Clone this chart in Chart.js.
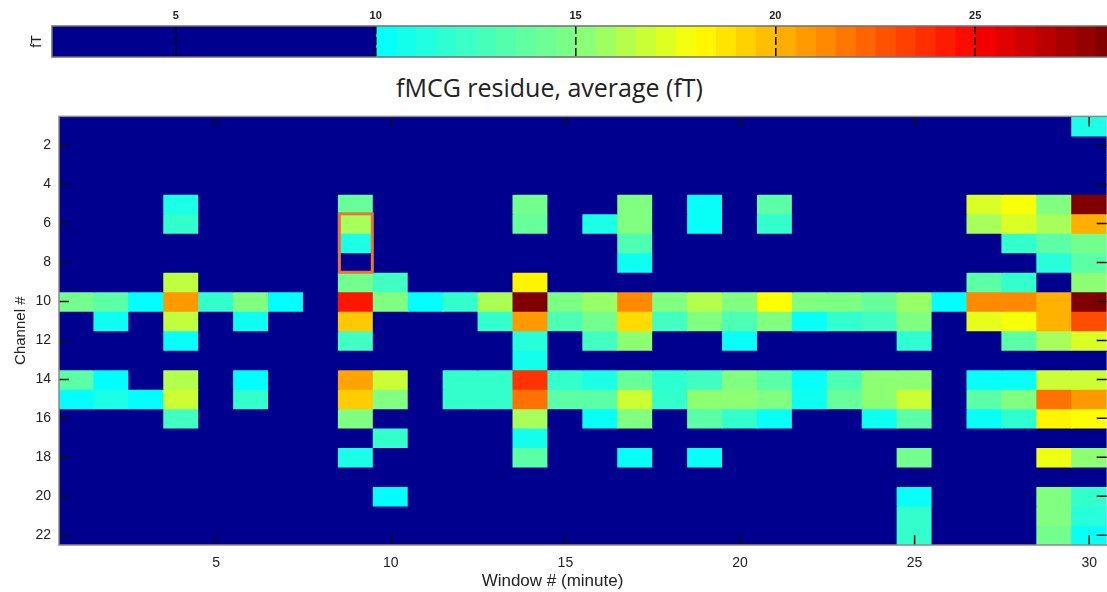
<!DOCTYPE html>
<html lang="en">
<head>
  <meta charset="UTF-8">
  <title>fMCG residue, average (fT)</title>
  <script src="https://cdn.jsdelivr.net/npm/chart.js"></script>
  <style>
    body { margin: 0; background: #fff; width: 1107px; height: 592px; overflow: hidden; position: relative; }
    .box { position: absolute; left: 0; width: 1107px; }
    #title { position: absolute; left: 0; width: 1099px; top: 72px; text-align: center;
             font: 25px "Open Sans", sans-serif; line-height: 30px; color: #222; }
    #xtitle { position: absolute; left: 0; width: 1105px; top: 571px; text-align: center;
              font: 17px "Liberation Sans", sans-serif; line-height: 20px; color: #222; }
  </style>
</head>
<body>
  <div class="box" style="top:0;height:65px"><canvas id="cbar"></canvas></div>
  <div id="title">fMCG residue, average (fT)</div>
  <div class="box" style="top:100px;height:492px"><canvas id="heat"></canvas></div>
  <div id="xtitle">Window # (minute)</div>

  <script>
    // windows (minutes) along x, channels along y
    const windows = ['1','2','3','4','5','6','7','8','9','10','11','12','13','14','15',
                     '16','17','18','19','20','21','22','23','24','25','26','27','28','29','30'];
    const xTicks = [5, 10, 15, 20, 25, 30];
    const yTicks = [2, 4, 6, 8, 10, 12, 14, 16, 18, 20, 22];
    const cbarTicks = [5, 10, 15, 20, 25];

    // average residue per channel (fT), one row per channel 1..22; 0 = below threshold
    const residue = [
      [0,0,0,0,0,0,0,0,0,0, 0,0,0,0,0,0,0,0,0,0, 0,0,0,0,0,0,0,0,0,11],
      [0,0,0,0,0,0,0,0,0,0, 0,0,0,0,0,0,0,0,0,0, 0,0,0,0,0,0,0,0,0,0],
      [0,0,0,0,0,0,0,0,0,0, 0,0,0,0,0,0,0,0,0,0, 0,0,0,0,0,0,0,0,0,0],
      [0,0,0,0,0,0,0,0,0,0, 0,0,0,0,0,0,0,0,0,0, 0,0,0,0,0,0,0,0,0,0],
      [0,0,0,11,0,0,0,0,14,0, 0,0,0,14.5,0,0,15,0,10.3,0, 13.5,0,0,0,0,0,17.1,17.8,15,28.3],
      [0,0,0,12,0,0,0,0,15.9,0, 0,0,0,14,0,11,15,0,10.3,0, 12,0,0,0,0,0,15.9,17.1,15.9,20.2],
      [0,0,0,0,0,0,0,0,11,0, 0,0,0,0,0,0,13,0,0,0, 0,0,0,0,0,0,0,12,13.5,14.5],
      [0,0,0,0,0,0,0,0,0,0, 0,0,0,0,0,0,10.5,0,0,0, 0,0,0,0,0,0,0,0,11.5,13.5],
      [0,0,0,16.5,0,0,0,0,14.5,12.5, 0,0,0,18.3,0,0,0,0,0,0, 0,0,0,0,0,0,13.5,12,0,15.3],
      [14.5,13.5,10,20.8,12,15,10,0,24.4,15, 10,12,16,28.3,14.8,15.6,21.2,15,16.2,15, 18,15,14.8,14,15.6,10,21.2,21.2,20.1,28.3],
      [0,10.5,0,16.5,0,10.5,0,0,19.5,0, 0,0,12,20.8,13,14.5,19,12.5,15,13, 15,10.3,12,12.5,15,0,17.4,17.8,20.1,22.9],
      [0,0,0,10.3,0,0,0,0,12.5,0, 0,0,0,11.5,0,12.5,15.3,0,0,10.3, 0,0,0,0,11.8,0,0,13.5,15.9,17.1],
      [0,0,0,0,0,0,0,0,0,0, 0,0,0,10.8,0,0,0,0,0,0, 0,0,0,0,0,0,0,0,0,0],
      [13.5,10,0,16.2,0,10,0,0,20.5,16.8, 0,12,12,23.6,12,11,14,11.8,12.5,15, 13.5,10.3,13,15.3,15.3,0,10.3,10.3,16.8,16.8],
      [10,11,10,16.8,0,12,0,0,19.4,15, 0,12,12,21.9,13.5,13.5,16.8,12,15.3,15.3, 15,10.5,14,15.3,16.8,0,13.5,15,21.9,20.8],
      [0,0,0,12.5,0,0,0,0,15,0, 0,0,0,15.9,0,10.3,15,0,13.5,12, 10.3,0,0,10.5,13.5,0,10.3,11.8,18.3,18],
      [0,0,0,0,0,0,0,0,0,12, 0,0,0,10.8,0,0,0,0,0,0, 0,0,0,0,0,0,0,0,0,0],
      [0,0,0,0,0,0,0,0,11,0, 0,0,0,13.5,0,0,10.3,0,10.3,0, 0,0,0,0,14.5,0,0,0,17.6,15.3],
      [0,0,0,0,0,0,0,0,0,0, 0,0,0,0,0,0,0,0,0,0, 0,0,0,0,0,0,0,0,0,0],
      [0,0,0,0,0,0,0,0,0,10, 0,0,0,0,0,0,0,0,0,0, 0,0,0,0,10.3,0,0,0,15,12],
      [0,0,0,0,0,0,0,0,0,0, 0,0,0,0,0,0,0,0,0,0, 0,0,0,0,12,0,0,0,15,11.5],
      [0,0,0,0,0,0,0,0,0,0, 0,0,0,0,0,0,0,0,0,0, 0,0,0,0,12,0,0,0,14.5,10.3]
    ];

    // highlighted cell group (window 9, channels 6-8)
    const markWindow = 9;
    const markChannels = [6, 8];

    // colour scale
    const threshold = 10;
    const cbarMin = 1.9, cbarMax = 28.3, cbarStep = 0.5;
    const belowColor = '#00008f';
    const stops = [[10, [0, 255, 255]], [15, [128, 255, 128]], [18, [255, 255, 0]],
                   [25, [255, 0, 0]], [28.3, [128, 0, 0]]];

    function jet(v) {
      if (v < threshold) return belowColor;
      for (let i = 1; i < stops.length; i++) {
        if (v <= stops[i][0] || i === stops.length - 1) {
          const [v0, c0] = stops[i - 1], [v1, c1] = stops[i];
          const t = Math.max(0, Math.min(1, (v - v0) / (v1 - v0)));
          const c = c0.map((a, k) => Math.round(a + (c1[k] - a) * t));
          return `rgb(${c[0]},${c[1]},${c[2]})`;
        }
      }
    }

    const tickFont = { family: '"Liberation Sans", sans-serif', size: 14 };

    // ---- colour bar ----
    const cbarSets = [{ data: [[cbarMin, threshold]], backgroundColor: belowColor }];
    for (let lo = threshold; lo < cbarMax; lo += cbarStep) {
      cbarSets.push({ data: [[lo, lo + cbarStep]], backgroundColor: jet(lo + cbarStep / 2) });
    }

    const cbarFrame = {
      id: 'cbarFrame',
      afterDraw(chart) {
        const { ctx, chartArea: a } = chart;
        ctx.save();
        ctx.strokeStyle = '#707070';
        ctx.lineWidth = 1.5;
        ctx.strokeRect(a.left, a.top, a.width + 2, a.height);
        ctx.restore();
      }
    };

    new Chart(document.getElementById('cbar'), {
      type: 'bar',
      data: { labels: [''], datasets: cbarSets },
      options: {
        indexAxis: 'y',
        responsive: true,
        maintainAspectRatio: false,
        animation: false,
        layout: { padding: { top: 0, bottom: 8, right: 0, left: 0 } },
        datasets: { bar: { grouped: false, barPercentage: 1, categoryPercentage: 1, borderWidth: 0, inflateAmount: 0.5 } },
        plugins: { legend: { display: false }, tooltip: { enabled: false } },
        scales: {
          x: {
            type: 'linear', position: 'top', min: cbarMin, max: cbarMax,
            afterBuildTicks: s => { s.ticks = cbarTicks.map(v => ({ value: v })); },
            afterFit: s => { s.height = 26; },
            ticks: { color: '#222', padding: 3, maxRotation: 0,
                     font: { family: '"Liberation Sans", sans-serif', size: 11, weight: 'bold' } },
            grid: { z: 1, color: '#000', lineWidth: 1.5, drawTicks: false },
            border: { display: false, dash: [8, 3] }
          },
          y: {
            afterFit: s => { s.width = 52; },
            ticks: { display: false },
            grid: { display: false },
            border: { display: false },
            title: { display: true, text: 'fT', color: '#222', padding: { top: 29, bottom: 0 },
                     font: { family: '"Liberation Sans", sans-serif', size: 14 } }
          }
        }
      },
      plugins: [cbarFrame]
    });

    // ---- heat map: one floating-bar dataset per channel ----
    const heatSets = residue.map((row, i) => ({
      label: 'Channel ' + (i + 1),
      data: row.map(() => [i + 0.5, i + 1.5]),
      backgroundColor: row.map(jet)
    }));

    const heatFrame = {
      id: 'heatFrame',
      afterDatasetsDraw(chart) {
        const { ctx, chartArea: a, scales: { x, y } } = chart;
        ctx.save();
        // highlight box
        const half = (x.getPixelForValue(1) - x.getPixelForValue(0)) / 2;
        const mx = x.getPixelForValue(markWindow - 1);
        const top = y.getPixelForValue(markChannels[0] - 0.5);
        const bot = y.getPixelForValue(markChannels[1] + 0.5);
        ctx.strokeStyle = '#e8743b';
        ctx.lineWidth = 3;
        ctx.strokeRect(mx - half + 1, top, 2 * half - 2, bot - top);
        // inward tick marks
        ctx.strokeStyle = '#111';
        ctx.lineWidth = 1.5;
        ctx.beginPath();
        xTicks.forEach(v => {
          const px = x.getPixelForValue(v - 1);
          ctx.moveTo(px, a.bottom); ctx.lineTo(px, a.bottom - 10);
          ctx.moveTo(px, a.top); ctx.lineTo(px, a.top + 10);
        });
        yTicks.forEach(v => {
          const py = y.getPixelForValue(v);
          ctx.moveTo(a.left, py); ctx.lineTo(a.left + 10, py);
          ctx.moveTo(a.right, py); ctx.lineTo(a.right - 10, py);
        });
        ctx.stroke();
        // axes frame
        ctx.strokeStyle = '#8a8a8a';
        ctx.lineWidth = 1.5;
        ctx.strokeRect(a.left, a.top, a.width + 2, a.height);
        ctx.restore();
      }
    };

    new Chart(document.getElementById('heat'), {
      type: 'bar',
      data: { labels: windows, datasets: heatSets },
      options: {
        responsive: true,
        maintainAspectRatio: false,
        animation: false,
        layout: { padding: { top: 13, bottom: 0, right: 0, left: 0 } },
        datasets: { bar: { grouped: false, barPercentage: 1, categoryPercentage: 1, borderWidth: 0, inflateAmount: 0.5 } },
        plugins: { legend: { display: false }, tooltip: { enabled: false } },
        scales: {
          x: {
            afterBuildTicks: s => { s.ticks = xTicks.map(v => ({ value: v - 1 })); },
            afterFit: s => { s.height = 47; },
            ticks: { autoSkip: false, maxRotation: 0, padding: 10, color: '#222', font: tickFont },
            grid: { display: false, drawTicks: false },
            border: { display: false }
          },
          y: {
            type: 'linear', min: 0.5, max: 22.5, reverse: true,
            afterBuildTicks: s => { s.ticks = yTicks.map(v => ({ value: v })); },
            afterFit: s => { s.width = 59; },
            ticks: { padding: 8, color: '#222', font: tickFont },
            grid: { display: false, drawTicks: false },
            border: { display: false },
            title: { display: true, text: 'Channel #', color: '#222', padding: { top: 12, bottom: 0 },
                     font: { family: '"Liberation Sans", sans-serif', size: 15 } }
          }
        }
      },
      plugins: [heatFrame]
    });
  </script>
</body>
</html>
